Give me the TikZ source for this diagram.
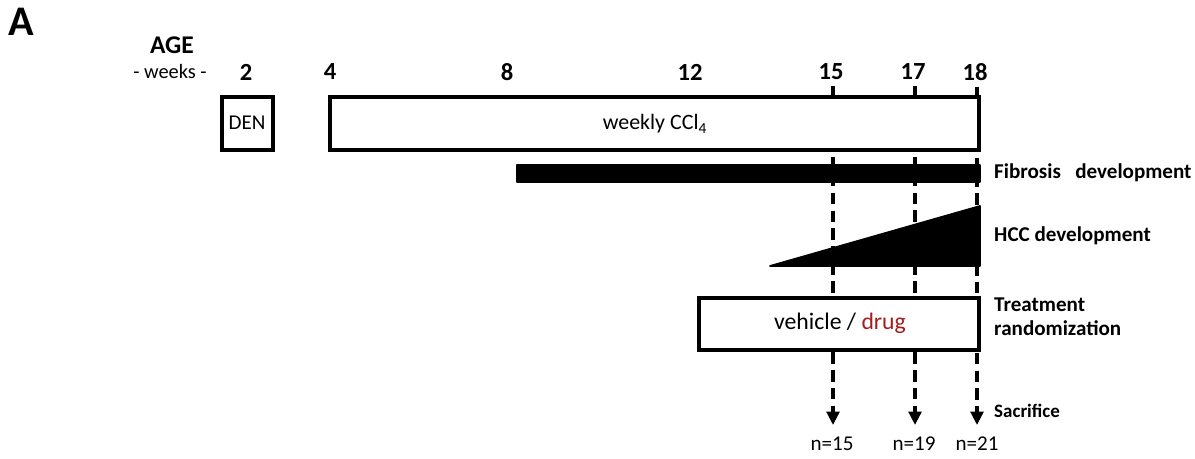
\documentclass[tikz,border=0pt]{standalone}
\usepackage{fontspec}
\setmainfont{Carlito}
\usetikzlibrary{arrows.meta}
\definecolor{drugred}{RGB}{165,28,28}
\tikzset{
  box/.style={draw, line width=2.3pt, fill=white},
  bar/.style={fill=black, draw=black, line width=1pt, line join=round},
  dashline/.style={line width=1.9pt, dash pattern=on 6.5pt off 3.6pt},
  tick/.style={font=\bfseries\fontsize{14}{16}\selectfont},
  phase/.style={anchor=west, font=\bfseries\fontsize{12}{14}\selectfont, align=left},
  count/.style={font=\fontsize{12}{14}\selectfont}
}
\begin{document}
\begin{tikzpicture}[x=0.02cm,y=0.02cm]
\useasboundingbox (0,0) rectangle (1195,-458);
\node[font=\bfseries\fontsize{24}{26}\selectfont] (panel) at (21,-22) {A};
\node[font=\bfseries\fontsize{14.5}{16}\selectfont] (age) at (172,-45) {AGE};
\node[font=\fontsize{11.6}{13}\selectfont] (weeks) at (170,-71) {- weeks -};
% week axis
\node[tick] (t2) at (246,-72) {2};
\node[tick] (t4) at (330,-72) {4};
\node[tick] (t8) at (507,-72) {8};
\node[tick] (t12) at (690,-72) {12};
\node[tick] (t15) at (831,-72) {15};
\node[tick] (t17) at (913,-72) {17};
\node[tick] (t18) at (975,-72) {18};
\coordinate (e15) at (833,-425);
\coordinate (e17) at (915,-425);
\coordinate (e18) at (977,-425);
\path[draw,dashline,-{Triangle[width=7.2pt,length=7.6pt]}] (t15.south -| e15) -- (e15);
\path[draw,dashline,-{Triangle[width=7.2pt,length=7.6pt]}] (t17.south -| e17) -- (e17);
\path[draw,dashline,-{Triangle[width=7.2pt,length=7.6pt]}] (t18.south -| e18) -- (e18);
% treatments
\draw[box] (222,-97) rectangle (273,-150);
\node[font=\fontsize{12}{14}\selectfont] (den) at (247,-123) {DEN};
\draw[box] (330,-97) rectangle (979,-150);
\node[font=\fontsize{12.5}{15}\selectfont] (ccl) at (655,-124) {weekly CCl\textsubscript{4}};
\filldraw[bar] (517,-165) rectangle (980,-182);
\node[phase] (fib) at (988,-173) {Fibrosis\ \ \ development};
\filldraw[bar] (770,-266) -- (980,-206) -- (980,-266) -- cycle;
\node[phase] (hcc) at (988,-236) {HCC development};
\draw[box] (699,-298) rectangle (979,-350);
\node[font=\fontsize{13.5}{16}\selectfont] (veh) at (840,-323) {vehicle / \textcolor{drugred}{drug}};
\node[phase, font=\bfseries\fontsize{12}{13.5}\selectfont] (rand) at (988,-317) {Treatment\\randomization};
\node[phase, font=\bfseries\fontsize{10.8}{12}\selectfont] (sac) at (988,-411) {Sacrifice};
\node[count] (n15) at (832,-444) {n=15};
\node[count] (n19) at (914,-444) {n=19};
\node[count] (n21) at (977,-444) {n=21};
\end{tikzpicture}
\end{document}
